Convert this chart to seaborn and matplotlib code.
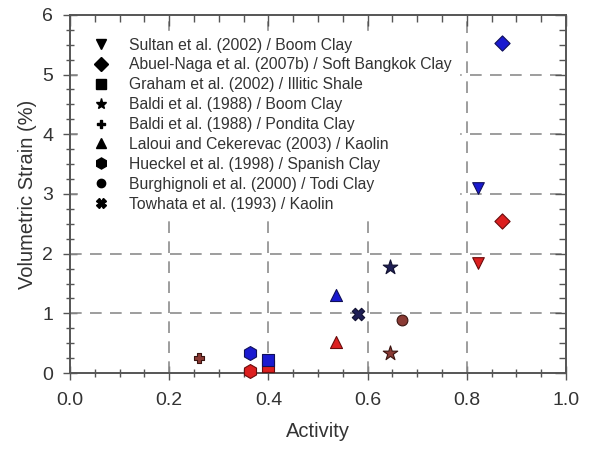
import matplotlib
matplotlib.use("Agg")
import matplotlib.pyplot as plt
from matplotlib.lines import Line2D
from matplotlib.ticker import MultipleLocator, NullFormatter
import seaborn as sns
import pandas as pd

sns.set_theme(style="white")
plt.rcParams["font.family"] = ["Liberation Sans", "DejaVu Sans"]

# Studies and their marker shapes
studies = [
    "Sultan et al. (2002) / Boom Clay",
    "Abuel-Naga et al. (2007b) / Soft Bangkok Clay",
    "Graham et al. (2002) / Illitic Shale",
    "Baldi et al. (1988) / Boom Clay",
    "Baldi et al. (1988) / Pondita Clay",
    "Laloui and Cekerevac (2003) / Kaolin",
    "Hueckel et al. (1998) / Spanish Clay",
    "Burghignoli et al. (2000) / Todi Clay",
    "Towhata et al. (1993) / Kaolin",
]
markers = ["v", "D", "s", "*", "P", "^", "h", "o", "X"]
legend_sizes = [7, 7, 7, 8, 6, 7, 8, 6, 7]

# Data points: study index, activity, volumetric strain, colour group
point_study = [0, 0, 1, 1, 2, 2, 3, 3, 4, 5, 5, 6, 6, 7, 8]
activity = [0.823, 0.823, 0.871, 0.871, 0.40, 0.40, 0.645, 0.645, 0.26,
            0.536, 0.536, 0.363, 0.363, 0.669, 0.58]
strain = [3.10, 1.84, 5.53, 2.55, 0.22, 0.12, 1.78, 0.33, 0.25,
          1.31, 0.52, 0.34, 0.03, 0.89, 0.99]
group = ["blue", "red", "blue", "red", "blue", "red", "navy", "brown", "brown",
         "blue", "red", "blue", "red", "brown", "navy"]

palette = {"blue": "#1a1ad0", "red": "#dc1f1f", "navy": "#1e1e55", "brown": "#8a3a34"}
edges = {"blue": "#10105a", "red": "#6a0c0c", "navy": "#101030", "brown": "#3a1410"}
layer = {"blue": 4, "red": 3, "navy": 3, "brown": 3}
sizes = {"v": 70, "D": 60, "s": 70, "*": 120, "P": 60, "^": 75, "h": 100, "o": 60, "X": 80}

df = pd.DataFrame({
    "Activity": activity,
    "Strain": strain,
    "study": [studies[i] for i in point_study],
    "marker": [markers[i] for i in point_study],
    "group": group,
})

fig = plt.figure(figsize=(5.9, 4.5), dpi=100)
ax = fig.add_axes([0.1186, 0.171, 0.8407, 0.796])

for gi, row in df.iterrows():
    sns.scatterplot(data=df.iloc[[gi]], x="Activity", y="Strain", ax=ax,
                    marker=row["marker"], s=sizes[row["marker"]],
                    color=palette[row["group"]], edgecolor=edges[row["group"]],
                    linewidth=0.8, zorder=layer[row["group"]], legend=False,
                    clip_on=False)

ax.set_xlim(0, 1.0)
ax.set_ylim(0, 6)
ax.xaxis.set_major_locator(MultipleLocator(0.2))
ax.xaxis.set_minor_locator(MultipleLocator(0.05))
ax.yaxis.set_major_locator(MultipleLocator(1))
ax.yaxis.set_minor_locator(MultipleLocator(0.25))
ax.set_xticklabels([f"{v:.1f}" for v in ax.get_xticks()])

for v in [0.2, 0.4, 0.6, 0.8]:
    ax.axvline(v, color="#8c8c8c", lw=1.2, ls=(0, (7, 5)), zorder=1)
for v in [1, 2, 3, 4, 5]:
    ax.axhline(v, color="#8c8c8c", lw=1.2, ls=(0, (7, 5)), zorder=1)

for sp in ax.spines.values():
    sp.set_color("#555555")
    sp.set_linewidth(1.4)

ax.tick_params(which="major", direction="inout", length=10, width=1.0, colors="#555555",
               labelsize=14, labelcolor="#333333")
ax.tick_params(which="minor", direction="inout", length=6, width=1.0, colors="#555555")
ax.tick_params(axis="x", which="major", pad=9)
ax.tick_params(axis="y", which="major", pad=7)
ax.tick_params(which="both", bottom=True, left=True, top=False, right=False)

# Inward ticks on the top and right edges
top = ax.twiny()
top.set_xlim(ax.get_xlim())
top.xaxis.set_major_locator(MultipleLocator(0.2))
top.xaxis.set_minor_locator(MultipleLocator(0.05))
top.xaxis.set_major_formatter(NullFormatter())
right = ax.twinx()
right.set_ylim(ax.get_ylim())
right.yaxis.set_major_locator(MultipleLocator(1))
right.yaxis.set_minor_locator(MultipleLocator(0.25))
right.yaxis.set_major_formatter(NullFormatter())
for t in (top, right):
    t.tick_params(which="major", direction="in", length=8, width=1.0, colors="#555555")
    t.tick_params(which="minor", direction="in", length=5, width=1.0, colors="#555555")
    for sp in t.spines.values():
        sp.set_visible(False)
top.tick_params(which="both", top=True, bottom=False, left=False, right=False)
right.tick_params(which="both", right=True, left=False, top=False, bottom=False)

ax.set_xlabel("Activity", fontsize=14.5, color="#333333", labelpad=9)
ax.set_ylabel("Volumetric Strain (%)", fontsize=14.5, color="#333333", labelpad=4)

handles = [Line2D([], [], ls="none", marker=m, color="black", markersize=ms)
           for m, ms in zip(markers, legend_sizes)]
leg = ax.legend(handles, studies, loc="upper left", bbox_to_anchor=(0.01, 0.965),
                frameon=True, fancybox=False, framealpha=1.0, facecolor="white",
                edgecolor="white", fontsize=11.3, handletextpad=0.8,
                labelspacing=0.31, labelcolor="#333333", borderaxespad=0.2,
                borderpad=0.45)
leg.set_zorder(2)

fig.savefig("out.png", dpi=100)
